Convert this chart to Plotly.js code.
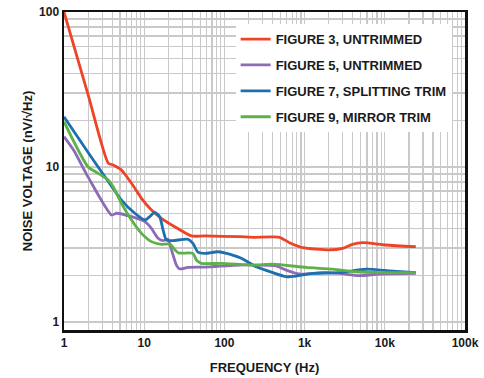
<!DOCTYPE html>
<html>
<head>
<meta charset="utf-8">
<script src="https://cdn.plot.ly/plotly-3.0.1.min.js"></script>
<style>html,body{margin:0;padding:0;background:#fff;}#chart{width:484px;height:378px;}</style>
</head>
<body>
<div id="chart"></div>
<script>
// Frequency (Hz) and noise voltage (nV/√Hz)
const fig3Freq = [1, 2, 3.56, 4.1, 5.2, 6.95, 9.25, 12.3, 16.4, 24, 38.7, 56.7, 154, 238, 486, 647, 948, 2030, 2977, 3963, 5280, 10300, 24400];
const fig3Noise = [100, 29.2, 10.6, 10.3, 9.56, 7.85, 6.28, 5.28, 4.67, 4.12, 3.59, 3.59, 3.55, 3.52, 3.52, 3.25, 3.02, 2.92, 2.99, 3.17, 3.25, 3.14, 3.06];

const fig5Freq = [1, 1.31, 2, 3.92, 4.52, 6.95, 10.2, 12.3, 14.9, 17.2, 19.8, 21.9, 25.2, 27.7, 35.2, 56.7, 154, 238, 441, 588, 861, 1680, 2710, 4800, 8510, 24400];
const fig5Noise = [15.7, 12.9, 8.61, 4.9, 5.03, 4.78, 4.44, 4.02, 3.47, 3.35, 3.42, 2.92, 2.33, 2.2, 2.25, 2.26, 2.33, 2.33, 2.30, 2.16, 2.04, 2.08, 2.06, 1.99, 2.04, 2.06];

const fig7Freq = [1, 2, 3.24, 5.2, 7.64, 10.2, 11.7, 13.5, 15.6, 17.2, 18.9, 22.9, 35.2, 40.5, 46.8, 56.7, 83, 100, 162, 250, 402, 588, 784, 1262, 2710, 5820, 11350, 24400];
const fig7Noise = [21.1, 12.4, 8.65, 6.12, 5.03, 4.55, 4.78, 5.1, 4.78, 3.92, 3.38, 3.35, 3.42, 3.22, 2.82, 2.77, 2.84, 2.79, 2.58, 2.27, 2.08, 1.96, 1.98, 2.06, 2.08, 2.19, 2.14, 2.08];

const fig9Freq = [1, 2, 2.67, 3.56, 4.1, 5.2, 6.95, 9.25, 12.3, 16.4, 20.8, 26.4, 40.5, 44.7, 51.6, 91.5, 238, 402, 1043, 2236, 4370, 9360, 24400];
const fig9Noise = [19.6, 10.0, 9.1, 8.24, 7.46, 5.83, 4.55, 3.73, 3.30, 3.17, 3.18, 2.80, 2.77, 2.51, 2.39, 2.39, 2.33, 2.36, 2.25, 2.19, 2.11, 2.08, 2.08];

const seriesNames = ['FIGURE 3, UNTRIMMED', 'FIGURE 5, UNTRIMMED', 'FIGURE 7, SPLITTING TRIM', 'FIGURE 9, MIRROR TRIM'];
const seriesColors = ['#ee4426', '#8c6bb8', '#1e6fb0', '#5cb247'];

const xTickVals = [1, 10, 100, 1000, 10000, 100000];
const xTickText = ['1', '10', '100', '1k', '10k', '100k'];
const yTickVals = [1, 10, 100];
const yTickText = ['1', '10', '100'];

const xMinor = [];
for (let k = 0; k < 5; k++) for (let d = 2; d <= 9; d++) xMinor.push(d * Math.pow(10, k));
const yMinor = [];
for (let k = 0; k < 2; k++) for (let d = 2; d <= 9; d++) yMinor.push(d * Math.pow(10, k));

const xs = [fig3Freq, fig5Freq, fig7Freq, fig9Freq];
const ys = [fig3Noise, fig5Noise, fig7Noise, fig9Noise];

const traces = xs.map((x, i) => ({
  x: x, y: ys[i], type: 'scatter', mode: 'lines',
  name: seriesNames[i], legendgroup: 'g' + i,
  line: {color: seriesColors[i], width: 2.8, shape: 'spline', smoothing: 0.6}
}));

const FONT = 'Liberation Sans, Arial, sans-serif';
const gridColor = '#c9c9c9';

const layout = {
  width: 484, height: 378,
  margin: {l: 64, r: 19, t: 12, b: 48},
  paper_bgcolor: '#ffffff', plot_bgcolor: '#ffffff',
  font: {family: FONT, color: '#1a1a1a'},
  showlegend: true,
  legend: {
    x: 0.428, xanchor: 'left', y: 0.962, yanchor: 'top',
    bgcolor: '#ffffff', borderwidth: 0,
    font: {family: FONT, size: 13, color: '#1a1a1a', weight: 'bold'},
    tracegroupgap: 6
  },
  xaxis: {
    type: 'log', range: [0, 5], autorange: false,
    tickmode: 'array', tickvals: xTickVals, ticktext: xTickText,
    tickfont: {family: FONT, size: 12, color: '#1a1a1a', weight: 'bold'},
    ticks: '', showgrid: true, gridcolor: gridColor, gridwidth: 1.2,
    minor: {tickmode: 'array', tickvals: xMinor, showgrid: true, gridcolor: gridColor, gridwidth: 1.2, ticks: ''},
    showline: true, linecolor: '#111', linewidth: 2.5, mirror: true,
    zeroline: false, automargin: false,
    title: {text: 'FREQUENCY (Hz)', font: {family: FONT, size: 13, color: '#1a1a1a', weight: 'bold'}, standoff: 14}
  },
  yaxis: {
    type: 'log', range: [-0.0516, 2], autorange: false,
    tickmode: 'array', tickvals: yTickVals, ticktext: yTickText,
    tickfont: {family: FONT, size: 12, color: '#1a1a1a', weight: 'bold'},
    ticks: '', showgrid: true, gridcolor: gridColor, gridwidth: 1.2,
    minor: {tickmode: 'array', tickvals: yMinor, showgrid: true, gridcolor: gridColor, gridwidth: 1.2, ticks: ''},
    showline: true, linecolor: '#111', linewidth: 2.5, mirror: true,
    zeroline: false, automargin: false,
    title: {text: 'NOISE VOLTAGE (nV/√Hz)', font: {family: FONT, size: 13, color: '#1a1a1a', weight: 'bold'}, standoff: 4}
  }
};

Plotly.newPlot('chart', traces, layout, {displayModeBar: false, staticPlot: true});
</script>
</body>
</html>
